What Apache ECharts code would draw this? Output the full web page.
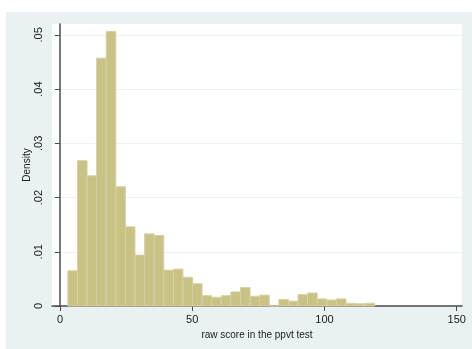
<!DOCTYPE html>
<html>
<head>
<meta charset="utf-8">
<title>raw score in the ppvt test</title>
<script src="https://cdn.jsdelivr.net/npm/echarts@6/dist/echarts.min.js"></script>
<style>
  html, body { margin: 0; padding: 0; background: #ffffff; }
  #chart { width: 472px; height: 349px; }
</style>
</head>
<body>
<div id="chart"></div>
<script>
// Histogram bin edges (score units) and density per bin
var binEdges = [3, 6.625, 10.25, 13.875, 17.5, 21.125, 24.75, 28.375, 32, 35.625,
  39.25, 42.875, 46.5, 50.125, 53.75, 57.375, 61, 64.625, 68.25, 71.875,
  75.5, 79.125, 82.75, 86.375, 90, 93.625, 97.25, 100.875, 104.5, 108.125,
  111.75, 115.375, 119];
var density = [0.0065, 0.0268, 0.0240, 0.0457, 0.0506, 0.0220, 0.0146, 0.0094, 0.0133, 0.0130,
  0.0066, 0.0068, 0.0053, 0.0041, 0.0019, 0.0016, 0.0019, 0.0026, 0.0034, 0.0018,
  0.0020, 0.0000, 0.0012, 0.0009, 0.0021, 0.0024, 0.0013, 0.0011, 0.0013, 0.0005,
  0.0004, 0.0005];
var xTicks = [0, 50, 100, 150];
var yTicks = [0, 0.01, 0.02, 0.03, 0.04, 0.05];
var yTickLabels = ['0', '.01', '.02', '.03', '.04', '.05'];

var bars = density.map(function (d, i) { return [binEdges[i], binEdges[i + 1], d]; });

var chart = echarts.init(document.getElementById('chart'), null, { renderer: 'canvas' });
var axisColor = '#4b4b4b';
var textColor = '#1a1a1a';
var font = '"Liberation Sans", Arial, sans-serif';

chart.setOption({
  backgroundColor: '#ffffff',
  animation: false,
  graphic: [{
    type: 'rect', z: -10, silent: true,
    shape: { x: 6, y: 12, width: 466, height: 337 },
    style: { fill: '#eaf1f3' }
  }],
  grid: {
    left: 52, top: 24, right: 10, bottom: 43,
    show: true, backgroundColor: '#ffffff', borderWidth: 0
  },
  xAxis: {
    type: 'value', min: -3, max: 152,
    name: 'raw score in the ppvt test',
    nameLocation: 'middle', nameGap: 21,
    nameTextStyle: { fontFamily: font, fontSize: 10, color: textColor },
    axisLine: { show: true, onZero: false, lineStyle: { color: axisColor, width: 1.5 } },
    axisTick: { show: true, customValues: xTicks, length: 5, lineStyle: { color: axisColor, width: 1 } },
    axisLabel: { customValues: xTicks, margin: 8, fontFamily: font, fontSize: 11, color: textColor },
    splitLine: { show: false }
  },
  yAxis: {
    type: 'value', min: 0, max: 0.052, interval: 0.01,
    name: 'Density',
    nameLocation: 'middle', nameGap: 20, nameRotate: 90,
    nameMoveOverlap: false,
    nameTextStyle: { fontFamily: font, fontSize: 10, color: textColor },
    axisLine: { show: true, lineStyle: { color: axisColor, width: 1.5 } },
    axisTick: { show: true, customValues: yTicks, length: 5, lineStyle: { color: axisColor, width: 1 } },
    axisLabel: {
      customValues: yTicks, rotate: 90, margin: 8,
      fontFamily: font, fontSize: 11, color: textColor,
      formatter: function (v) {
        var idx = yTicks.indexOf(v);
        return idx >= 0 ? yTickLabels[idx] : '';
      }
    },
    splitLine: { show: true, lineStyle: { color: '#eef2f1', width: 1 } }
  },
  series: [{
    type: 'custom',
    data: bars,
    encode: { x: [0, 1], y: 2 },
    renderItem: function (params, api) {
      var p0 = api.coord([api.value(0), api.value(2)]);
      var p1 = api.coord([api.value(1), 0]);
      return {
        type: 'rect',
        shape: { x: p0[0], y: p0[1], width: p1[0] - p0[0], height: p1[1] - p0[1] },
        style: { fill: '#c9c285', stroke: '#d6d1a2', lineWidth: 1 }
      };
    },
    z: 1
  }]
});
</script>
</body>
</html>
